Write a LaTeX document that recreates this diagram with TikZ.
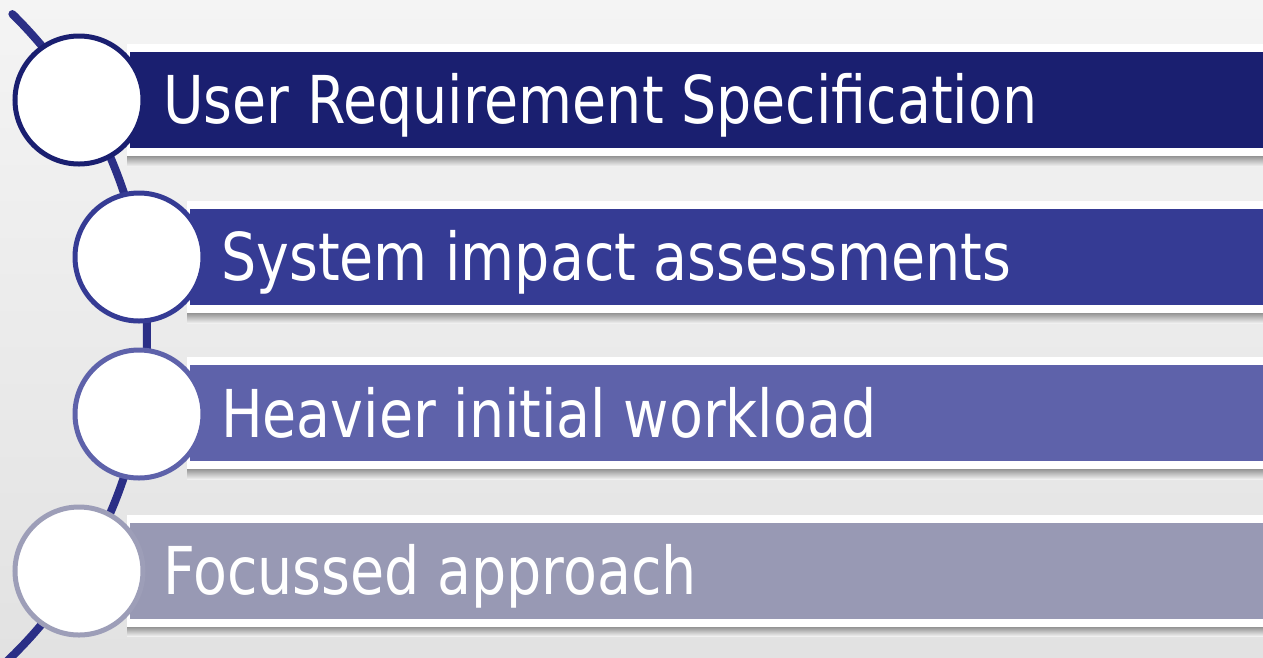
\documentclass[tikz,border=0pt]{standalone}
\usepackage{fontspec}
\setmainfont{DejaVu Sans}[FakeStretch=0.84]
\usetikzlibrary{positioning}
\definecolor{barA}{HTML}{1A1F70}
\definecolor{barB}{HTML}{353B94}
\definecolor{barC}{HTML}{5E62AA}
\definecolor{barD}{HTML}{9899B4}
\definecolor{spineblue}{HTML}{2B2F86}
\definecolor{bgtop}{HTML}{F4F4F4}
\definecolor{bgbot}{HTML}{E2E2E2}
\tikzset {
  % white band round each bar
  bar frame/.style = {
    fill = white
  },
  % soft shadow under the band
  bar shadow/.style = {
    top color = black!42,
    bottom color = black!6
  },
  % coloured bar
  stepbar/.style = {
    rectangle,
    fill = #1,
    draw = none,
    anchor = west,
    minimum height = 96,
    inner sep = 0
  },
  % label in a bar
  steplabel/.style = {
    anchor = base west,
    text = white,
    inner sep = 0,
    font = \fontsize{66}{66}\selectfont
  },
  % ring at the start of a bar
  disc/.style = {
    circle,
    fill = white,
    draw = #1,
    line width = 5,
    minimum size = 128,
    inner sep = 0
  },
  spine/.style = {
    draw = spineblue,
    line width = 8,
    line cap = round
  }
}

\begin{document}
\begin{tikzpicture}[x=1pt, y=-1pt]
  \useasboundingbox (0,0) rectangle (1263,657);
  % background
  \shade[top color=bgtop, middle color=white, bottom color=bgbot]
    (0,0) rectangle (1263,657);

  % bands and shadows
  \shade[bar shadow] (127,156) rectangle (1263,166);
  \fill[bar frame] (127,44) rectangle (1263,156);
  \shade[bar shadow] (187,313) rectangle (1263,323);
  \fill[bar frame] (187,201) rectangle (1263,313);
  \shade[bar shadow] (187,469) rectangle (1263,479);
  \fill[bar frame] (187,357) rectangle (1263,469);
  \shade[bar shadow] (127,627) rectangle (1263,636);
  \fill[bar frame] (127,515) rectangle (1263,627);

  % bars
  \node[stepbar=barA, minimum width=1133] (urs) at (130,100) {};
  \node[stepbar=barB, minimum width=1073] (sia) at (190,257) {};
  \node[stepbar=barC, minimum width=1073] (hiw) at (190,413) {};
  \node[stepbar=barD, minimum width=1133] (fa) at (130,571) {};

  % spine behind the rings
  \coordinate (hub) at (-303,335);
  \draw[spine] (hub) ++(-45.5:450) arc[start angle=-45.5, end angle=49, radius=450];

  % rings
  \node[disc=barA] (ursdisc) at (79,100) {};
  \node[disc=barB] (siadisc) at (139,257) {};
  \node[disc=barC] (hiwdisc) at (139,414) {};
  \node[disc=barD!95!white] (fadisc) at (79,571) {};

  % labels
  \node[steplabel] (urstext) at (163,123) {User Requirement Specification};
  \node[steplabel] (siatext) at (221,280) {System impact assessments};
  \node[steplabel] (hiwtext) at (221,437) {Heavier initial workload};
  \node[steplabel] (fatext) at (163,594) {Focussed approach};
\end{tikzpicture}
\end{document}
